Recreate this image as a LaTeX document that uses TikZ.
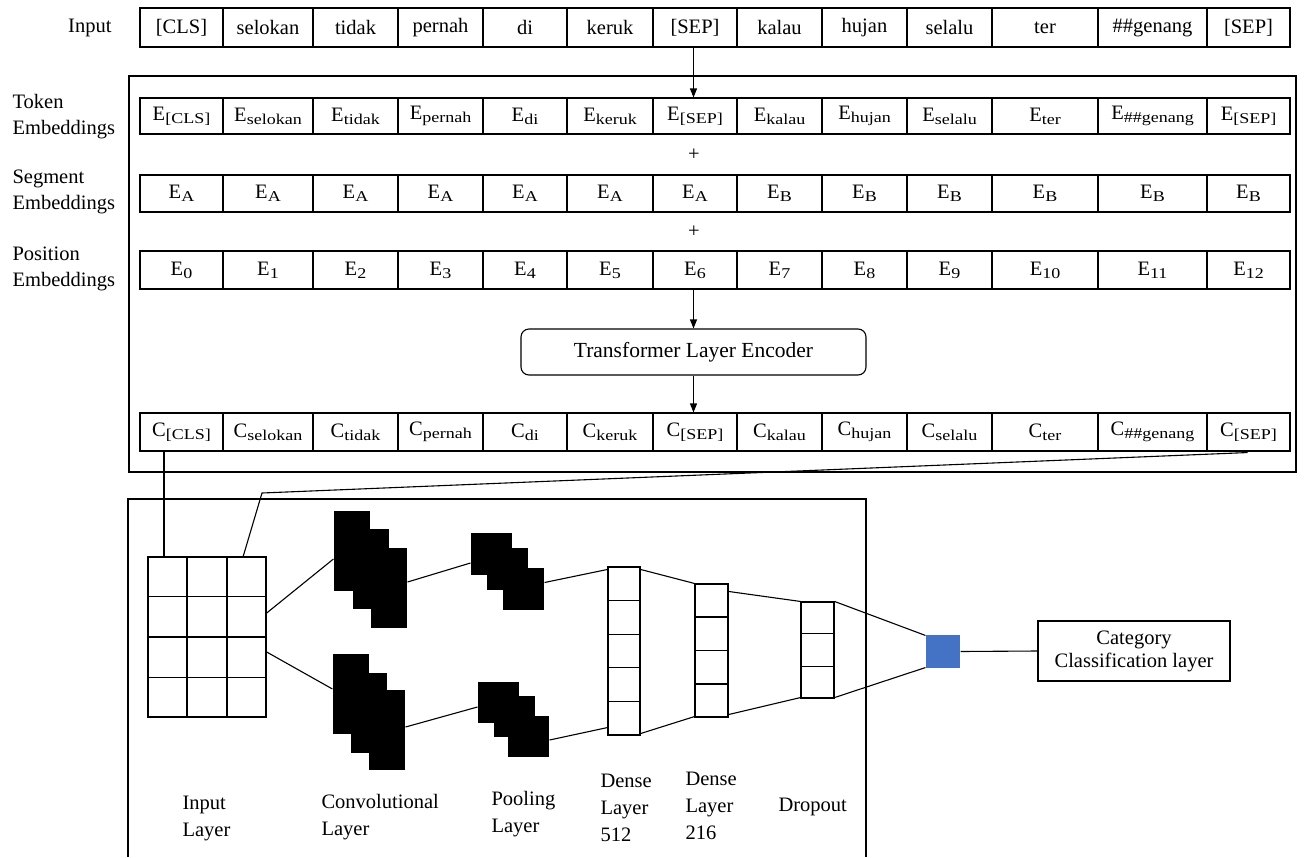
\documentclass[tikz,border=0pt]{standalone}
\usepackage{fontspec}
\setmainfont{LiberationSerif}[Extension=.ttf,UprightFont=*-Regular,BoldFont=*-Bold,ItalicFont=*-Italic,BoldItalicFont=*-BoldItalic]
\usepackage{graphicx}
\usetikzlibrary{arrows.meta,calc}
\definecolor{outblue}{HTML}{4472C4}
\newcommand\sbx[1]{\raisebox{-3pt}{\scalebox{1.2}[1]{\fontsize{15}{15}\selectfont #1}}}
\begin{document}
\begin{tikzpicture}[x=1pt,y=-1pt,line width=1.1pt,
  font=\rmfamily\fontsize{20.5}{25}\selectfont,
  cell/.style={draw,inner sep=0pt,anchor=center},
  arr/.style={-{Triangle[length=9pt,width=7pt]}},
  blk/.style={fill=black,draw=none,inner sep=0pt},
  lbl/.style={align=left,inner sep=0pt,anchor=west,font=\rmfamily\fontsize{20.5}{26}\selectfont},
  blbl/.style={align=left,inner sep=0pt,anchor=west,font=\rmfamily\fontsize{20.5}{27}\selectfont},
  vec/.style={draw,inner sep=0pt,line width=1.1pt}]
\useasboundingbox (0,0) rectangle (1304,857);

% ---------- left labels ----------
\node[anchor=east,inner sep=0pt] (linput) at (112,28) {Input};
\node[lbl] (ltok) at (12,117) {Token\\Embeddings};
\node[lbl] (lseg) at (12,191.5) {Segment\\Embeddings};
\node[lbl] (lpos) at (12,268.5) {Position\\Embeddings};

% ---------- upper frame ----------
\draw (129,76) rectangle (1296,472);

% ---------- input row ----------
\foreach \l/\r/\t [count=\i] in {140/223/{[CLS]},223/313/selokan,313/398/tidak,398/483/pernah,483/567/di,567/653/keruk,653/737/{[SEP]},737/822/kalau,822/907/hujan,907/992/selalu,992/1098/ter,1098/1207/{\#\#genang},1207/1290/{[SEP]}}
  \node[cell,minimum width={(\r-\l)*1pt},minimum height=39pt] (in\i) at ({(\l+\r)/2},27.5) {\t};

% ---------- token embeddings ----------
\foreach \l/\r/\t [count=\i] in {140/223/{[CLS]},223/313/selokan,313/398/tidak,398/483/pernah,483/567/di,567/653/keruk,653/737/{[SEP]},737/822/kalau,822/907/hujan,907/992/selalu,992/1098/ter,1098/1207/{\#\#genang},1207/1290/{[SEP]}}
  \node[cell,minimum width={(\r-\l)*1pt},minimum height=36pt] (t\i) at ({(\l+\r)/2},116) {E\sbx{\t}};

% ---------- segment embeddings ----------
\foreach \l/\r/\t [count=\i] in {140/223/A,223/313/A,313/398/A,398/483/A,483/567/A,567/653/A,653/737/A,737/822/B,822/907/B,907/992/B,992/1098/B,1098/1207/B,1207/1290/B}
  \node[cell,minimum width={(\r-\l)*1pt},minimum height=37pt] (s\i) at ({(\l+\r)/2},193.5) {E\sbx{\t}};

% ---------- position embeddings ----------
\foreach \l/\r/\t [count=\i] in {140/223/0,223/313/1,313/398/2,398/483/3,483/567/4,567/653/5,653/737/6,737/822/7,822/907/8,907/992/9,992/1098/10,1098/1207/11,1207/1290/12}
  \node[cell,minimum width={(\r-\l)*1pt},minimum height=38pt] (p\i) at ({(\l+\r)/2},270) {E\sbx{\t}};

% ---------- contextual outputs ----------
\foreach \l/\r/\t [count=\i] in {140/223/{[CLS]},223/313/selokan,313/398/tidak,398/483/pernah,483/567/di,567/653/keruk,653/737/{[SEP]},737/822/kalau,822/907/hujan,907/992/selalu,992/1098/ter,1098/1207/{\#\#genang},1207/1290/{[SEP]}}
  \node[cell,minimum width={(\r-\l)*1pt},minimum height=38pt] (c\i) at ({(\l+\r)/2},432) {C\sbx{\t}};

\node[inner sep=0pt] (plus1) at (694,155) {+};
\node[inner sep=0pt] (plus2) at (694,232) {+};

\node[draw,rounded corners=8pt,minimum width=345pt,minimum height=46pt,inner sep=0pt,
      font=\rmfamily\fontsize{21.5}{25}\selectfont] (tr) at (693.5,352) {Transformer Layer Encoder};

\draw[arr] (in7.south -| tr.north) -- (t7.north -| tr.north);
\draw[arr] (p7.south -| tr.north) -- (tr.north);
\draw[arr] (tr.south) -- (c7.north -| tr.south);

% ---------- lower frame ----------
\draw (128,857) |- (866,499) -- (866,857);

% input grid
\node[draw,minimum width=118pt,minimum height=160pt,inner sep=0pt,line width=1.4pt] (grid) at (207,637) {};
\foreach \k in {1,2}
  \draw[line width=1.4pt] ($(grid.north west)!\k/3!(grid.north east)$) -- ($(grid.south west)!\k/3!(grid.south east)$);
\foreach \k in {1,2,3}
  \draw[line width=1.4pt] ($(grid.north west)!\k/4!(grid.south west)$) -- ($(grid.north east)!\k/4!(grid.south east)$);

% links from BERT outputs to grid
\coordinate (gA) at (164,557);
\coordinate (gB) at (243,557);
\coordinate (kink) at (262,493);
\draw (c1.south -| gA) -- (gA);
\draw ($(c13.south)+(-1,1)$) -- (kink) -- (gB);

% convolution stacks
\node[blk,minimum width=36pt,minimum height=80pt] (cv1a) at (352,551) {};
\node[blk,minimum width=36pt,minimum height=80pt] (cv1b) at (370.5,569) {};
\node[blk,minimum width=36pt,minimum height=80pt] (cv1c) at (389,588) {};
\node[blk,minimum width=36pt,minimum height=80pt] (cv2a) at (351,694) {};
\node[blk,minimum width=36pt,minimum height=80pt] (cv2b) at (369,712.5) {};
\node[blk,minimum width=36pt,minimum height=80pt] (cv2c) at (387,730) {};

% pooling stacks
\node[blk,minimum width=41pt,minimum height=42pt] (pl1a) at (491.5,554) {};
\node[blk,minimum width=41pt,minimum height=42pt] (pl1b) at (507.5,569) {};
\node[blk,minimum width=41pt,minimum height=42pt] (pl1c) at (523.5,588.5) {};
\node[blk,minimum width=41pt,minimum height=41pt] (pl2a) at (498.5,702) {};
\node[blk,minimum width=41pt,minimum height=41pt] (pl2b) at (514.5,716.5) {};
\node[blk,minimum width=41pt,minimum height=41pt] (pl2c) at (528.5,736.5) {};

% dense layers and dropout
\node[vec,minimum width=32pt,minimum height=168pt] (d1) at (624,651) {};
\foreach \k in {1,...,4}
  \draw ($(d1.north west)!\k/5!(d1.south west)$) -- ($(d1.north east)!\k/5!(d1.south east)$);
\node[vec,minimum width=33pt,minimum height=133pt] (d2) at (711.5,650.5) {};
\foreach \k in {1,2,3}
  \draw ($(d2.north west)!\k/4!(d2.south west)$) -- ($(d2.north east)!\k/4!(d2.south east)$);
\node[vec,minimum width=33pt,minimum height=96pt] (dr) at (817.5,650) {};
\foreach \k in {1,2}
  \draw ($(dr.north west)!\k/3!(dr.south west)$) -- ($(dr.north east)!\k/3!(dr.south east)$);

\node[fill=outblue,minimum width=34pt,minimum height=33pt,inner sep=0pt] (out) at (943,651.5) {};
\node[draw,minimum width=192pt,minimum height=60pt,inner sep=0pt,align=center,
      font=\rmfamily\fontsize{20.5}{23}\selectfont] (cat) at (1134,651) {Category\\Classification layer};

% connectors of the CNN
\draw ($(grid.east)+(0,-24)$) -- ($(cv1a.west)+(0,8)$);
\draw ($(grid.east)+(0,15)$) -- ($(cv2a.west)+(0,-5)$);
\draw ($(cv1c.east)+(0,-6)$) -- ($(pl1a.west)+(0,9)$);
\draw ($(cv2c.east)+(0,-3)$) -- ($(pl2a.west)+(0,5)$);
\draw ($(pl1c.east)+(0,-6)$) -- ($(d1.north west)+(0,3)$);
\draw ($(pl2c.east)+(0,3.5)$) -- ($(d1.south west)+(0,-8)$);
\draw ($(d1.north east)+(0,3)$) -- (d2.north west);
\draw ($(d1.south east)+(0,-2)$) -- ($(d2.south west)+(0,-1)$);
\draw ($(d2.north east)+(0,8)$) -- (dr.north west);
\draw ($(d2.south east)+(0,-3)$) -- ($(dr.south west)+(0,-1)$);
\draw (dr.north east) -- ($(out.north west)+(0,1)$);
\draw ($(dr.south east)+(0,-1)$) -- ($(out.south west)+(0,-1)$);
\draw (out.east) -- (cat.west);

% bottom labels
\node[blbl] (lin) at (182,818) {Input\\Layer};
\node[blbl] (lconv) at (321,817.5) {Convolutional\\Layer};
\node[blbl] (lpool) at (491,814.5) {Pooling\\Layer};
\node[blbl] (ld1) at (600,808) {Dense\\Layer\\512};
\node[blbl] (ld2) at (685,806) {Dense\\Layer\\216};
\node[blbl] (ldrop) at (778,807) {Dropout};
\end{tikzpicture}
\end{document}
